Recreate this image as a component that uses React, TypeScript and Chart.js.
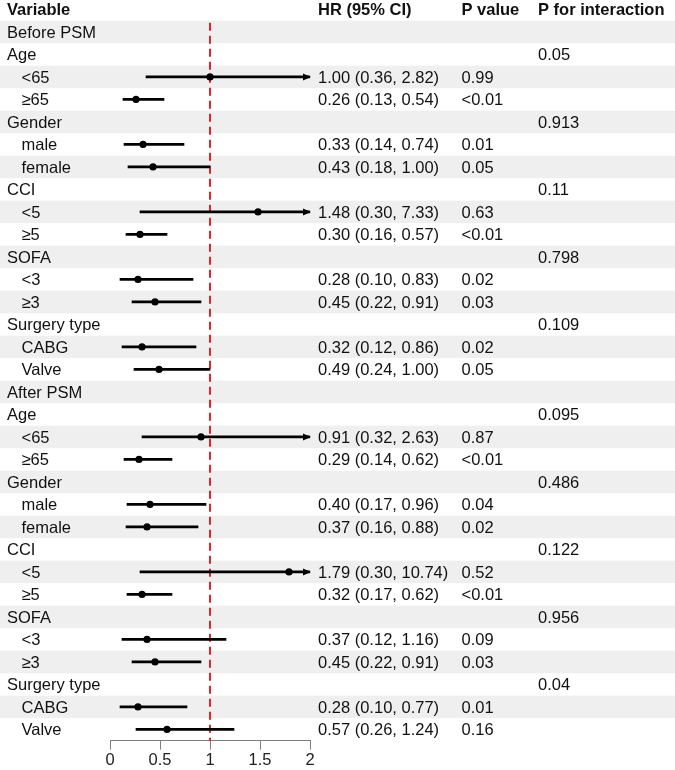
import React, { useEffect, useRef } from "react";
import { Chart, registerables } from "chart.js";

Chart.register(...registerables);

// Subgroup rows of the forest plot
const variables = [
  "Before PSM", "Age", "<65", "≥65", "Gender", "male", "female", "CCI", "<5", "≥5",
  "SOFA", "<3", "≥3", "Surgery type", "CABG", "Valve",
  "After PSM", "Age", "<65", "≥65", "Gender", "male", "female", "CCI", "<5", "≥5",
  "SOFA", "<3", "≥3", "Surgery type", "CABG", "Valve",
];

// Hazard ratios with 95% confidence limits (null on heading rows)
const hr = [
  null, null, 1.0, 0.26, null, 0.33, 0.43, null, 1.48, 0.3,
  null, 0.28, 0.45, null, 0.32, 0.49,
  null, null, 0.91, 0.29, null, 0.4, 0.37, null, 1.79, 0.32,
  null, 0.37, 0.45, null, 0.28, 0.57,
];
const ciLow = [
  null, null, 0.36, 0.13, null, 0.14, 0.18, null, 0.3, 0.16,
  null, 0.1, 0.22, null, 0.12, 0.24,
  null, null, 0.32, 0.14, null, 0.17, 0.16, null, 0.3, 0.17,
  null, 0.12, 0.22, null, 0.1, 0.26,
];
const ciHigh = [
  null, null, 2.82, 0.54, null, 0.74, 1.0, null, 7.33, 0.57,
  null, 0.83, 0.91, null, 0.86, 1.0,
  null, null, 2.63, 0.62, null, 0.96, 0.88, null, 10.74, 0.62,
  null, 1.16, 0.91, null, 0.77, 1.24,
];

const pValue = [
  "", "", "0.99", "<0.01", "", "0.01", "0.05", "", "0.63", "<0.01",
  "", "0.02", "0.03", "", "0.02", "0.05",
  "", "", "0.87", "<0.01", "", "0.04", "0.02", "", "0.52", "<0.01",
  "", "0.09", "0.03", "", "0.01", "0.16",
];
const pInteraction = [
  "", "0.05", "", "", "0.913", "", "", "0.11", "", "",
  "0.798", "", "", "0.109", "", "",
  "", "0.095", "", "", "0.486", "", "", "0.122", "", "",
  "0.956", "", "", "0.04", "", "",
];

const columnHeaders = ["Variable", "HR (95% CI)", "P value", "P for interaction"];
const xTicks = [0, 0.5, 1, 1.5, 2];
const xMin = 0;
const xMax = 2;
const referenceHR = 1;

// Page layout
const WIDTH = 675;
const HEIGHT = 770;
const PLOT_LEFT = 110;
const PLOT_RIGHT = 310;
const TABLE_TOP = 20.7;
const ROW_H = 22.5;
const FONT_FAMILY = '"Liberation Sans", Arial, Helvetica, sans-serif';
const FONT_SIZE = 16.5;
const TEXT_COLOR = "#111111";
const BAND_COLOR = "#efefef";
const AXIS_COLOR = "#7f7f7f";
const REF_COLOR = "#e0262b";
const COL_X = [7, 318, 461.5, 538];
const INDENT = 14.5;

const fmt = (v: number) => v.toFixed(2);

const rowCount = variables.length;

const tablePlugin = {
  id: "forestTable",
  beforeDraw(chart: any) {
    const { ctx } = chart;
    const y = chart.scales.y;
    ctx.save();
    ctx.fillStyle = BAND_COLOR;
    for (let i = 0; i < rowCount; i += 2) {
      const top = y.getPixelForValue(i);
      const bottom = y.getPixelForValue(i + 1);
      ctx.fillRect(0, top, WIDTH, bottom - top);
    }
    ctx.restore();
  },
  beforeDatasetsDraw(chart: any) {
    const { ctx, chartArea } = chart;
    const x = chart.scales.x;
    const px = x.getPixelForValue(referenceHR);
    ctx.save();
    ctx.strokeStyle = REF_COLOR;
    ctx.lineWidth = 2;
    ctx.setLineDash([8, 5]);
    ctx.beginPath();
    ctx.moveTo(px, chartArea.top + 2);
    ctx.lineTo(px, chartArea.bottom);
    ctx.stroke();
    ctx.restore();
  },
  afterDatasetsDraw(chart: any) {
    const { ctx } = chart;
    const x = chart.scales.x;
    const y = chart.scales.y;
    // arrowheads where the upper limit runs past the axis
    ctx.save();
    ctx.fillStyle = "#000";
    for (let i = 0; i < rowCount; i++) {
      const hi = ciHigh[i];
      if (hi == null || hi <= xMax) continue;
      const tip = x.getPixelForValue(xMax) + 1;
      const cy = y.getPixelForValue(i + 0.5);
      ctx.beginPath();
      ctx.moveTo(tip, cy);
      ctx.lineTo(tip - 8, cy - 3.5);
      ctx.lineTo(tip - 8, cy + 3.5);
      ctx.closePath();
      ctx.fill();
    }
    ctx.restore();
  },
  afterDraw(chart: any) {
    const { ctx } = chart;
    const y = chart.scales.y;
    ctx.save();
    ctx.fillStyle = TEXT_COLOR;
    ctx.textBaseline = "alphabetic";
    ctx.textAlign = "left";
    ctx.font = `bold ${FONT_SIZE}px ${FONT_FAMILY}`;
    columnHeaders.forEach((h, c) => ctx.fillText(h, COL_X[c], 15));
    ctx.font = `${FONT_SIZE}px ${FONT_FAMILY}`;
    for (let i = 0; i < rowCount; i++) {
      const base = y.getPixelForValue(i + 0.5) + 5.6;
      const isSub = hr[i] != null;
      ctx.fillText(variables[i], COL_X[0] + (isSub ? INDENT : 0), base);
      if (isSub) {
        ctx.fillText(
          `${fmt(hr[i] as number)} (${fmt(ciLow[i] as number)}, ${fmt(ciHigh[i] as number)})`,
          COL_X[1],
          base
        );
      }
      if (pValue[i]) ctx.fillText(pValue[i], COL_X[2], base);
      if (pInteraction[i]) ctx.fillText(pInteraction[i], COL_X[3], base);
    }
    ctx.restore();
  },
};

export default function App() {
  const canvasRef = useRef<HTMLCanvasElement | null>(null);

  useEffect(() => {
    const canvas = canvasRef.current;
    if (!canvas) return;

    const ciData: any[] = [];
    const pointData: any[] = [];
    for (let i = 0; i < rowCount; i++) {
      if (hr[i] == null) continue;
      ciData.push({
        x: [Math.max(ciLow[i] as number, xMin), Math.min(ciHigh[i] as number, xMax)],
        y: i + 0.5,
      });
      pointData.push({ x: hr[i], y: i + 0.5 });
    }

    const chart = new Chart(canvas, {
      type: "bar",
      data: {
        datasets: [
          {
            type: "bar",
            label: "95% CI",
            data: ciData,
            indexAxis: "y",
            backgroundColor: "#000",
            borderWidth: 0,
            barThickness: 2,
            grouped: false,
            order: 2,
          } as any,
          {
            type: "scatter",
            label: "HR",
            data: pointData,
            backgroundColor: "#000",
            borderColor: "#000",
            pointRadius: 3.6,
            pointBorderWidth: 0,
            order: 1,
          } as any,
        ],
      },
      options: {
        animation: false,
        responsive: false,
        maintainAspectRatio: false,
        layout: {
          padding: { left: PLOT_LEFT, right: WIDTH - PLOT_RIGHT, top: TABLE_TOP, bottom: 0 },
        },
        plugins: {
          legend: { display: false },
          tooltip: { enabled: false },
        },
        scales: {
          x: {
            type: "linear",
            position: "bottom",
            min: xMin,
            max: xMax,
            offset: false,
            afterBuildTicks: (s: any) => {
              s.ticks = xTicks.map((v) => ({ value: v }));
            },
            afterFit: (s: any) => {
              s.height = HEIGHT - (TABLE_TOP + ROW_H * rowCount);
            },
            grid: {
              display: true,
              offset: false,
              drawOnChartArea: false,
              drawTicks: true,
              tickLength: 9,
              color: AXIS_COLOR,
              lineWidth: 1,
            },
            border: { display: true, color: AXIS_COLOR, width: 1 },
            ticks: {
              color: "#222",
              padding: 1,
              maxRotation: 0,
              autoSkip: false,
              callback: (v: any) => String(Number(v)),
              font: { family: FONT_FAMILY, size: FONT_SIZE },
            },
          },
          y: {
            type: "linear",
            display: false,
            reverse: true,
            offset: false,
            grid: { offset: false },
            min: 0,
            max: rowCount,
          },
        },
      },
      plugins: [tablePlugin],
    });

    return () => chart.destroy();
  }, []);

  return (
    <div style={{ position: "fixed", left: 0, top: 0, width: WIDTH, height: HEIGHT, background: "#fff" }}>
      <canvas ref={canvasRef} width={WIDTH} height={HEIGHT} style={{ display: "block" }} />
    </div>
  );
}
